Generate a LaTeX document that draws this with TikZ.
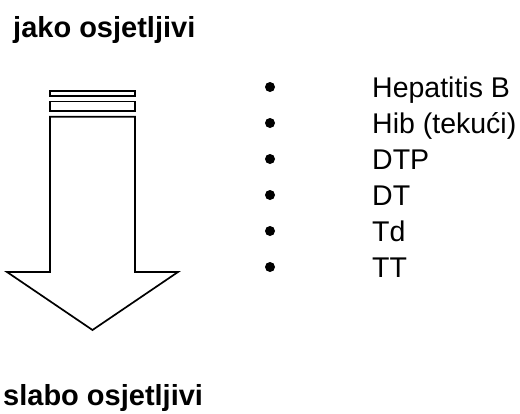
\documentclass[tikz,border=0pt]{standalone}
\usepackage{fontspec}
\setmainfont{Liberation Sans}
\begin{document}
\begin{tikzpicture}[x=1pt,y=-1pt,
  outl/.style={draw=black,line width=1.7pt,line join=miter},
  head/.style={font=\bfseries\fontsize{29}{34}\selectfont,anchor=base west,inner sep=0pt},
  item/.style={font=\fontsize{28.5}{34}\selectfont,anchor=base west,inner sep=0pt},
  bul/.style={circle,fill=black,inner sep=0pt,minimum size=10pt}]
\useasboundingbox (0,0) rectangle (520,413);
\node[head] (top) at (13,37) {jako osjetljivi};
\node[head] (bottom) at (3,405) {slabo osjetljivi};
% arrow
\draw[outl] (50,90.7) rectangle (135,96);
\draw[outl] (50,101.5) rectangle (135,111);
\draw[outl] (50,116.7) -- (135,116.7) -- (135,272) -- (178,272) -- (92.5,330) -- (7,272) -- (50,272) -- cycle;
% list
\foreach \t [count=\i] in {Hepatitis B,Hib (tekući),DTP,DT,Td,TT}{
  \node[bul] (b\i) at (270,{87+36*(\i-1)}) {};
  \node[item] (t\i) at (372,{97+36*(\i-1)}) {\t};
}
\end{tikzpicture}
\end{document}
